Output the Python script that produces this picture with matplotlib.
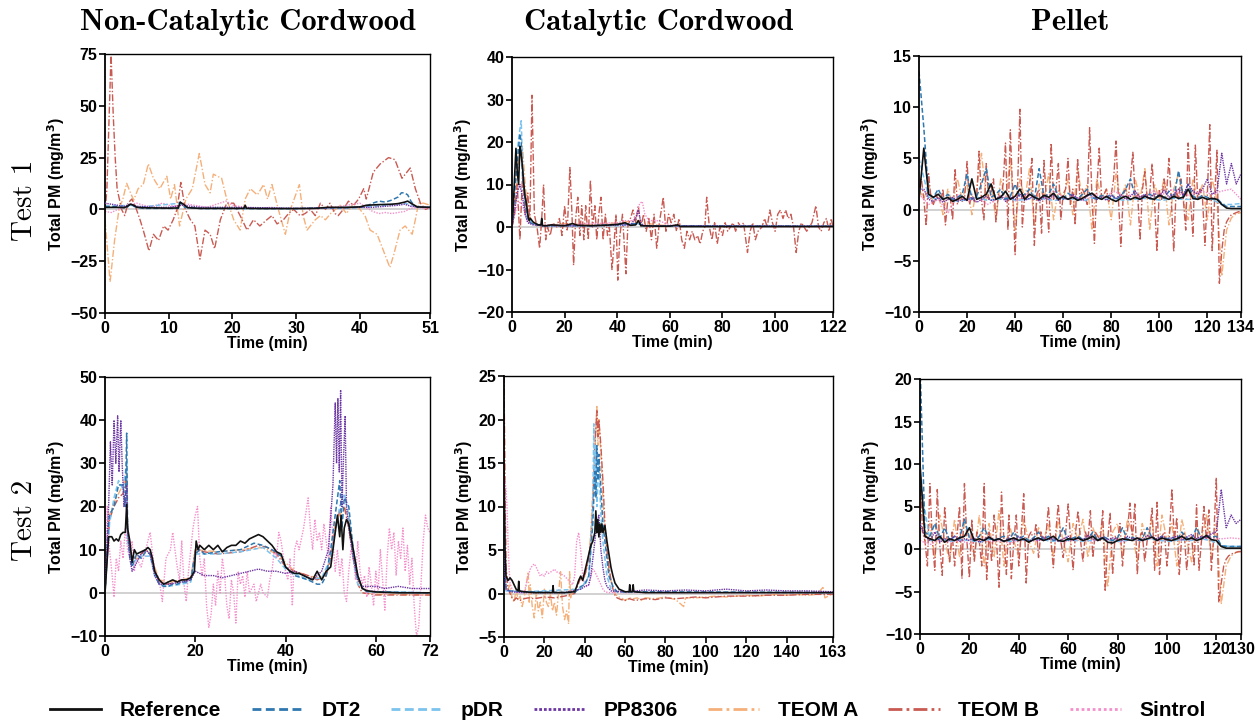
import numpy as np
import matplotlib
matplotlib.use("Agg")
import matplotlib.pyplot as plt
from matplotlib.lines import Line2D

plt.rcParams['font.family'] = ['Liberation Sans', 'DejaVu Sans']
plt.rcParams['font.weight'] = 'bold'

# ---------------- data ----------------
instruments = ['Reference', 'DT2', 'pDR', 'PP8306', 'TEOM A', 'TEOM B', 'Sintrol']
col_titles = ['Non-Catalytic Cordwood', 'Catalytic Cordwood', 'Pellet']
row_titles = ['Test 1', 'Test 2']
durations = [[51, 122, 134], [72, 163, 130]]
ylims = [[(-50, 75), (-20, 40), (-10, 15)], [(-10, 50), (-5, 25), (-10, 20)]]
yticks = [[[-50, -25, 0, 25, 50, 75], [-20, -10, 0, 10, 20, 30, 40], [-10, -5, 0, 5, 10, 15]],
          [[-10, 0, 10, 20, 30, 40, 50], [-5, 0, 5, 10, 15, 20, 25], [-10, -5, 0, 5, 10, 15, 20]]]
xticks = [[[0, 10, 20, 30, 40, 51], [0, 20, 40, 60, 80, 100, 122], [0, 20, 40, 60, 80, 100, 120, 134]],
          [[0, 20, 40, 60, 72], [0, 20, 40, 60, 80, 100, 120, 140, 163], [0, 20, 40, 60, 80, 100, 120, 130]]]

# --- Non-catalytic cordwood, test 1 (time min, mg/m3)
ncw1_ref = [(0,1),(1,1),(2,1),(3,0.8),(3.5,1.5),(4,2.5),(4.5,2),(5,1),(6,0.8),(8,0.7),(10,0.6),(11.5,0.7),(11.8,3.5),(12.3,2.5),(13,0.8),(15,0.5),(20,0.5),(21.8,0.5),(22,2),(22.2,0.5),(25,0.4),(30,0.4),(33,0.5),(35,1),(38,1),(40,1.2),(41,2),(43,2.3),(45,2.5),(46,2.8),(47,3.5),(47.5,4),(48,3),(49,1.2),(51,1)]
ncw1_dt2 = [(0,1.5),(3.5,1),(4,2.8),(4.5,1.5),(6,0.5),(11.5,0.5),(11.8,3.5),(12.5,1),(15,0.4),(22,0.4),(30,0.4),(38,0.8),(40,1),(41,1.5),(42,3),(43,4),(44,3.5),(45,4.5),(46,6),(46.5,8),(47,8),(47.5,7),(48,4),(48.5,2),(49,1),(51,1)]
ncw1_pdr = [(0,1.5),(4,2),(5,1),(11.8,3),(13,0.8),(20,0.5),(30,0.4),(40,1),(44,2),(47,3),(49,1.5),(51,1)]
ncw1_pp = [(0,3),(1,2.5),(2,2),(3,1.5),(4,2.5),(5,1.5),(8,1),(10,1),(12,2),(15,1),(20,1),(25,0.8),(30,0.5),(35,0.8),(40,1),(42,1),(44,1.5),(46,2),(47,2.5),(48,1.5),(50,1),(51,1)]
ncw1_teoma = [(0,-5),(0.8,-35),(1.5,-15),(2.2,0),(2.8,5),(3.4,12.6),(4,8),(4.5,4.5),(5.2,10),(6,12),(6.8,22),(7.6,15),(8.6,10),(9.7,16),(10.3,5),(10.9,12),(11.7,-8),(12.7,5),(13.7,10),(14.8,27),(15.7,12),(16.5,8),(17,17),(18.3,15),(19.1,5),(20.2,-5),(21.2,-10),(22,5),(22.8,10),(23.9,7),(24.9,12),(25.5,5),(26.2,12),(27.2,0),(28.3,-12),(29.1,0),(30.5,12),(31.1,-3),(31.7,-10),(33,-5),(33.8,-3),(34.6,-5),(35.4,-2),(36.9,2),(37.9,-2),(39,3),(40,0),(40.8,-3),(41.6,-10),(42.7,-12),(43.7,-20),(44.7,-28),(45.3,-22),(46.3,-10),(47.1,-8),(48.2,-12),(48.7,-5),(49.2,3),(50,3),(51,2)]
ncw1_teomb = [(0,-2),(0.3,10),(0.95,75),(1.3,45),(1.6,25),(1.9,10),(2.6,0),(3.1,-3),(3.6,3),(4.2,5),(4.7,2),(5.5,-5),(6,-10),(6.9,-20),(7.6,-12),(8.4,-15),(9.2,-8),(9.9,-10),(10.7,-5),(11.3,0),(11.9,13),(12.6,0),(13.4,-5),(14.1,-8),(14.9,-24),(15.7,-10),(16.5,-12),(17.2,-19),(18.1,-5),(19.1,3),(20.2,3),(21.2,-3),(22.3,-10),(23.3,-5),(24.3,-8),(25.4,-5),(26.2,-3),(27,-7),(28,-5),(28.8,-2),(29.6,0),(30.6,-3),(31.4,-2),(32.2,0),(33,-3),(33.8,3),(34.6,0),(35.3,3),(36.1,-2),(36.6,-3),(37.4,0),(38.2,4),(39,2),(39.8,5),(40.6,10),(41,5),(41.6,12),(42.1,18),(43.2,22),(44.5,25),(45.5,24),(46.6,15),(47.9,20),(48.7,10),(49.5,3),(50.3,0),(51,1)]
ncw1_sin = [(0,-1),(1,-1.5),(2,0),(3,1),(4,2.5),(5,3),(6,2),(7,1.5),(8,2),(9,3),(10,2),(11,1.5),(12,2),(13,2.5),(14,2),(15,1.5),(16,1),(17,2),(18,3),(19,4),(20,2),(22,1),(24,0.5),(26,1),(28,0.5),(30,0.5),(32,0.3),(34,0.5),(36,1),(38,2),(40,3),(41,1),(42,-1),(43,-2),(44,-1.5),(45,-2),(46,-1.5),(47,-1),(48,0.5),(49,1),(50,0.5),(51,0.5)]

# --- Catalytic cordwood, test 1
cw1_ref = [(0,0),(0.5,5),(1,12),(1.5,18.5),(2,13),(2.5,10),(3,19),(3.5,17),(4,14),(4.5,10),(5,7),(5.5,5.5),(6,3),(6.5,1.5),(7,2),(8,1.2),(9,0.8),(10,0.5),(11,0.5),(11.3,2),(11.6,0.3),(13,0.3),(15,0.5),(20,0.3),(23,0.8),(25,0.4),(30,0.3),(35,0.4),(40,0.6),(43,1),(45,0.4),(47,0.5),(48,1.5),(49,0.3),(55,0.2),(60,0.2),(63,0.5),(64,0.1),(80,0.1),(100,0.1),(122,0.1)]
cw1_dt2 = [(0,0),(1,8),(2,15),(3,22),(3.5,20),(4,12),(5,6),(6,2),(7,1),(9,0.5),(12,0.3),(30,0.3),(43,0.7),(48,0.8),(50,0.3),(122,0.2)]
cw1_pdr = [(0,0),(1,10),(2,18),(3,23),(3.5,25),(4,15),(5,6),(6,2),(8,0.8),(12,0.3),(40,0.3),(48,0.8),(50,0.3),(122,0.2)]
cw1_pp = [(0,0),(1,4),(2,8),(3,10),(4,7),(5,3),(6,1),(8,0.5),(12,0.3),(30,0.3),(45,0.5),(47,2),(48,4),(49,1),(50,0.3),(122,0.2)]
cw1_teoma = [(0,0),(1,5),(2,12),(3,18),(4,19),(5,10),(6,4),(7,2),(8,1),(10,0.5),(15,0.5),(20,0.8),(30,0.5),(40,1),(43,1.2),(47,1.5),(50,1),(55,0.5),(60,0.3),(122,0.2)]
cw1_teomb = [(0,0),(1,3),(2,10),(3,-3),(4,12),(5,3),(6,8),(6.8,1),(7.6,31),(8.5,3),(9.5,0),(10.5,-5),(11.3,2),(12,10),(12.8,-3),(13.5,0),(14.5,-2),(15.5,1),(17,0),(18,2),(19,-2),(20,5),(21,-1),(22,14),(22.8,3),(23.4,-9),(24.2,2),(25,7),(25.8,-2),(26.5,5),(27.3,-3),(28,5),(29,-3),(29.8,11),(30.6,0),(31.5,5),(32.2,-3),(33,3),(33.8,7),(34.6,-3),(35.5,3),(36.3,-2),(37,0),(38,-10),(38.8,-4),(39.5,3),(40.2,-12.5),(41,-2),(42,3),(43.3,-11),(44,0),(45,2),(46,4),(47,1),(48,5),(49,0),(50,3),(51,-1),(52,2),(53,-3),(54,3),(55,-5),(56,1),(57.5,7),(58.5,-1),(59.5,3),(60.5,1),(61.5,3),(62.5,-1),(63.5,2),(64.5,-3),(65.5,-5),(66.5,-1),(67.5,-3),(68.5,-1),(69.5,-3),(70.5,-2),(71.5,-4),(72.5,-1),(73.3,0),(74,7),(75,0),(76,-3),(77,1),(78,-4),(79,0),(80,-2),(81,1),(82,-1),(83,0),(84,1),(85,-1),(86,1),(87,0),(88,1),(89.5,-6),(90.5,-1),(91.5,1),(92.5,-3),(93.5,-1),(95,0),(96,2),(97,0),(98,4),(99,1),(100,-1),(101,3),(102,4),(103,2),(104,4),(105,2),(106,3),(107,0),(108,-6),(109,-1),(110,1),(111,0),(112,-1),(113,0),(114,1),(115.5,5),(116.5,0),(117.5,-1),(118.5,1),(119.5,2),(120.5,-1),(121.3,2),(122,0)]
cw1_sin = [(0,0),(1,3),(2,5),(3,6),(4,5),(5,3),(6,1),(8,0.8),(12,0.5),(20,0.5),(30,0.8),(40,1),(43,1.5),(46,1.5),(47.5,3),(48.5,5.5),(49.5,6),(50.5,3),(52,1.5),(55,1.5),(58,1),(60,0.5),(65,0.2),(122,0.1)]

# --- Pellet, test 1 (evenly sampled over 0-134 min)
pel1_ref = [1,6,1.5,1.2,1.5,1,1.2,0.8,1,1.3,0.9,3,1,1.2,1.5,2.5,1,1.2,1.8,1,1.3,2,1,1.5,1.2,1,1.4,1.2,1.6,1,1.3,1,1.2,0.9,1.1,1.4,1.6,1.2,1,1.3,1,0.8,1.1,1.3,1,1.2,1,1.3,1.1,1,1.4,1.2,1,1.3,1.1,1.2,2,1.1,1,1.2,1,1.1,1,0.5,0.15,0.1,0.1,0.1]
pel1_dt2 = [13.5,8,1.5,1.2,2,1,1.5,1,1.2,1.5,3.5,1,1.3,2.5,4,1.2,1.5,2,1,1.3,2.5,1.2,1.5,2,1,4,1.3,1.5,2.5,1.2,1,1.6,1.3,1,1.5,2,1.2,1,1.4,1.2,1.5,1,1.3,2,3,1.2,1,1.4,1.5,1.2,1.3,1.1,1.8,1,3.8,1.2,2.5,1.3,1.1,1.4,1.2,1,1.1,0.6,0.3,0.3,0.3,0.3]
pel1_pdr = [5,1.2,1,1.1,0.8,1,1.2,0.9,1,1.1,0.9,1,1.2,1,0.9,1.1,1,0.9,1.2,1,1.1,0.9,1,1.1,1,0.9,1.1,1,1,1.2,1,0.5,0.5,0.6]
pel1_pp = [2,2,1,0.8,1.2,0.7,1,1.2,0.8,1,0.9,1.2,0.7,1,1.3,0.9,1,1.4,0.8,1.2,1,1.5,0.9,1.1,1.3,0.8,1.2,1,1.4,0.9,1.2,1,1.5,1.1,0.9,1.3,1.6,1,1.2,0.9,1.4,1.1,1.5,1,1.3,1.8,1.2,1.5,1.1,1.6,1.3,1.9,1.2,1.5,2,1.4,2.5,1.8,1.5,2,3,1.5,1.8,5.5,2.5,4.5,2.5,3.5]
pel1_teoma = [2,1,2.5,0.5,1.5,-0.5,2,0.5,3,1,2.5,-0.5,2,5.5,1,2.5,-1,3,1,5,-2,3,1,4,-1.5,2.5,1,3.5,-1,2,1,3,-0.5,4,1,2.5,-2,3,1,2,-1,3.5,1,2.5,-1.5,3,1,4,-2,2.5,1,3,-1.5,2,3.5,1,-1,3,1,2.5,-1,3,1,-6.5,-2,-0.8,-0.4,-0.3]
pel1_teomb = [2,3,1,-1.6,3.5,1,0.5,1.5,1,0.8,
              2,-1.5,1,1.2,-1,4,0.5,1.5,0.8,1.2,
              4.7,0.5,1.5,0.8,1.2,5.7,1,-1,4.5,1,
              1.5,3,-1.2,1.5,1,2.5,6.5,-2,7.8,1.5,
              -4.4,2,9.8,-1.7,1.5,1,2.5,5,-3.5,1.5,
              2,-2.3,4.8,1,-2.2,6.5,1,2,4.5,-1,
              1.5,2,5,0.5,2,-1.5,5,1,2,1.5,
              0.5,8,1,-3.3,2,6,1,1.5,2,0.8,
              1.5,3,6.7,1,-3.6,1.5,2,1,3,5.6,
              1,1.5,-3,2,3.7,1,1.5,4.5,1,-4.1,
              2,1,3,1.5,5,1,-4.1,2,1,3,
              1,-2,6.5,1,-2.6,6.3,1,2,1,-3.5,
              1.5,8.3,-4,1,5.8,-7.2,-4,-2,-1.2,-0.8,
              -0.5,-0.4,-0.3,-0.2,-0.2]
pel1_sin = [1.5,0.5,1,-0.3,1.5,0.8,1.2,0.5,1,1.3,0.8,1.5,1,1.2,1.8,1,1.3,0.8,1.5,1.2,1.8,1.3,1.5,1,1.8,1.5,2,1.3,1.5,1.8,1.5,1.8,2,1]

# --- Non-catalytic cordwood, test 2
ncw2_ref = [(0,0),(0.5,8),(0.8,13),(1.5,13),(2,12),(2.5,12.5),(3,12),(3.5,13.5),(4,14),(4.5,14),(4.8,20.5),(5,15),(5.5,12),(6,7),(6.5,10),(7,9),(8,9.5),(9,10),(9.5,10.5),(10,10),(10.5,8),(11,5),(12,3),(13,2),(14,2.5),(15,3),(16,2.5),(17,3),(18,3),(19,3.5),(19.8,5),(20.2,12),(20.6,10),(21,11),(22,10),(23,11),(24,10),(25,11),(26,9.5),(27,10.5),(28,11),(29,11),(30,12),(31,11.5),(32,12.5),(33,13),(34,13.5),(35,13),(36,12),(37,11),(38,9.5),(39,9),(40,6),(41,5),(42,4.5),(43,4.5),(44,4),(45,3.5),(46,3),(47,5),(48,3),(49,5),(50,6),(51,14),(51.5,18),(52,13),(52.3,18),(52.7,10),(53,15),(53.5,17),(54,16),(55,10),(56,4),(57,1),(58,0.5),(60,0.2),(65,0),(72,0)]
ncw2_dt2 = [(0,0),(0.7,15),(1,18),(2,20),(3,25),(4,25),(4.5,20),(4.8,37),(5,15),(5.5,8),(6,6),(7,9),(8,8),(9,9.5),(10,9),(11,5),(12,2),(13,1.5),(14,1.5),(15,2),(16,2),(17,2.5),(18,2.5),(19,3),(20,9),(21,10),(22,9),(25,9.5),(30,10),(33,11.5),(35,11),(37,10),(39,8.5),(40,6),(42,4),(45,3),(47,2),(48,2),(49,4),(50,10),(51,18),(52,26),(52.5,15),(53,22),(54,20),(55,10),(56,4),(57,1),(58,0.3),(72,0)]
ncw2_pdr = [(0,0),(1,16),(2,22),(3,26),(4,24),(4.8,30),(5,12),(6,7),(8,8.5),(10,8.5),(11,4),(12,2),(14,1.5),(17,2),(19,2.5),(20,9),(25,9),(30,9.5),(35,10.5),(38,8),(40,5.5),(45,3),(48,3.5),(50,8),(51,14),(52,20),(53,23),(54,18),(55,8),(56,2),(58,0.3),(72,0)]
ncw2_pp = [(0,0),(0.8,20),(1.2,35),(1.6,25),(2,40),(2.4,30),(2.8,41),(3.1,28),(3.5,40),(3.8,30),(4.2,20),(4.8,25),(5,15),(5.5,8),(6,5),(7,7),(8,9),(9,10),(10,9),(11,4),(12,2),(14,2),(17,2.5),(19,3),(20,5),(21,4.5),(22,4),(24,4),(26,3.5),(28,4),(30,4.5),(32,5),(34,5.5),(36,5),(38,5),(40,4.5),(42,5),(44,4),(46,3),(48,5),(49.5,10),(50.5,25),(51,44),(51.3,30),(51.6,45),(51.9,28),(52.2,47),(52.5,20),(52.8,30),(53.2,41),(53.5,20),(54,15),(55,8),(56,3),(57,1.5),(60,1.5),(62,1),(65,1.5),(68,1),(70,1),(72,1)]
ncw2_teoma = [(0,0),(1,18),(2,21),(3,23),(4,25),(4.8,28),(5,14),(6,8),(8,8),(9,10),(10,9),(11,6),(12,3),(14,2.5),(17,3),(19,3.5),(20,10),(25,9.5),(30,10),(35,10.5),(38,9),(40,7),(42,5),(45,4),(47,3.5),(49,4),(50,9),(51,16),(52,18),(53,20),(54,17),(55,9),(56,3),(58,0),(60,-0.3),(72,-0.5)]
ncw2_teomb = [(0,0),(1,17),(2,20),(3,22),(4,23),(4.8,27),(5,13),(6,8),(7,8.5),(8,9),(9,10),(10,9),(11,5),(12,2.5),(14,2),(17,3),(19,3),(20,10),(22,9.5),(25,9),(30,9.5),(34,11),(36,10.5),(38,9),(40,6),(42,5),(45,4),(47,3),(49,4),(50,8),(51,15),(52,19),(53,20),(54,15),(55,8),(56,2),(57,0),(60,-0.5),(72,-0.5)]
ncw2_sin = [(0,0),(0.5,20),(1,10),(1.5,5),(2,-1),(2.5,8),(3,5),(3.5,12),(4,8),(4.5,15),(5,10),(5.5,8),(6,12),(6.5,5),(7,8),(8,6),(9,10),(10,14),(11,5),(12,3),(12.7,-2),(13.5,8),(14.5,10),(15,14),(16,6),(16.5,3),(17,12),(17.5,2),(18,-2),(18.5,5),(19,10),(19.5,15),(20,18),(20.5,20),(21,8),(21.5,4),(22,8),(22.5,-3),(23,-8),(23.5,-5),(24,2),(24.5,-3),(25,5),(25.5,0),(26,8),(26.5,4),(27,-3),(27.5,-6),(28,3),(28.5,0),(29,-7),(29.5,5),(30,2),(30.5,4),(31,-1),(31.5,5),(32,0),(33,2),(33.5,-2),(34,0),(34.5,2),(35,0),(36,-1),(36.5,3),(37,5),(37.5,10),(38,8),(38.5,14),(39,12),(40,5),(40.5,3),(41,8),(41.5,-3),(42,10),(42.5,12),(43,10),(44,15),(45,22),(45.5,15),(46,10),(46.5,17),(47,12),(47.5,14),(48,10),(48.5,16),(49,12),(49.5,8),(50,20),(50.5,12),(51,5),(51.5,10),(52,4),(52.5,8),(53,0),(53.5,-2),(54,5),(54.5,10),(55,8),(55.5,3),(56,12),(56.5,5),(57,2),(57.5,4),(58,-1),(58.5,6),(59,2),(59.5,-3),(60,5),(60.5,0),(61,10),(61.5,3),(62,-4),(62.5,8),(63,15),(63.5,10),(64,14),(64.5,4),(65,12),(65.5,8),(66,15),(66.5,5),(67,11),(67.5,2),(68,8),(68.5,-3),(69,-10),(69.5,-8),(70,2),(70.5,12),(71,18),(71.5,15),(72,14)]

# --- Catalytic cordwood, test 2
cw2_ref = [(0,15),(0.5,5),(1,2),(2,1.5),(3,1.8),(4,1.5),(5,1),(6,0.5),(7,0.3),(7.3,1.4),(7.6,0.3),(10,0.2),(15,0.1),(20,0.1),(24,0.1),(24.3,0.9),(24.6,0.1),(30,0.1),(35,0.2),(36,0.8),(37,1.5),(38,2),(39,1.5),(40,2.5),(41,3.5),(42,4.5),(43,5.5),(44,6),(45,7),(45.5,9.5),(46,7),(46.5,8.5),(47,6.5),(47.5,8),(48,7),(48.5,8),(49,7),(50,7.8),(51,6),(52,4.5),(53,3),(54,2),(55,1.2),(57,0.5),(60,0.2),(62,0.2),(62.3,1),(62.6,0.2),(63.5,0.2),(64,1),(64.3,0.2),(70,0.1),(163,0.1)]
cw2_dt2 = [(0,12),(0.5,3),(1,0.5),(3,0.3),(10,0.2),(35,0.1),(38,0.8),(40,1),(42,2),(44,8),(45,14),(45.5,11),(46,17),(46.5,13),(47,16),(48,12),(49,8),(50,6),(51,4),(52,2),(54,0.8),(56,0.2),(163,0.1)]
cw2_pdr = [(0,8),(0.5,2),(1,0.3),(10,0.2),(38,0.5),(42,2),(43,5),(44,10),(44.5,19.5),(45,12),(45.5,17),(46,10),(47,15),(48,9),(49,6),(50,4),(51,2),(53,0.5),(56,0.2),(163,0.1)]
cw2_pp = [(0,6),(0.5,2),(1,0.5),(3,0.2),(10,0.1),(30,0.1),(38,0.5),(40,0.8),(42,1),(43,2),(44,4),(45,6),(46,8),(47,9),(47.5,7),(48,5),(49,3),(50,1.5),(51,0.8),(53,0.3),(60,0.2),(70,0.4),(80,0.3),(90,0.4),(100,0.3),(110,0.5),(120,0.3),(130,0.4),(140,0.3),(150,0.3),(163,0.2)]
cw2_teoma = [(0,25),(0.5,10),(1,3),(2,0.5),(3,1),(4,-0.5),(5,-1),(6,0.5),(7,-0.8),(8,-0.3),(9,-1.5),(10,-0.5),(11,1),(12,2.5),(12.5,-1),(13,1),(14,-1.5),(15,-2.8),(16,0),(17,-2),(18,-1),(19,-2.8),(20,0.5),(21,-1),(22,-1.5),(23,0),(24,-2),(25,-1),(26,-2.5),(27,0),(28,2.5),(29,-1.5),(30,-3),(31,-2),(32,-3.5),(32.5,2.5),(33,-0.5),(34,0.5),(35,0),(36,0.5),(37,1.5),(38,2),(39,1.5),(40,2),(41,3),(42,4),(43,7),(44,12),(45,16),(46,21.5),(46.5,17),(47,20),(48,16),(49,11),(50,7),(51,5),(52,3),(53,1.5),(54,0.5),(55,0),(56,-0.3),(58,-0.5),(60,-0.8),(62,-0.5),(64,-0.6),(66,-0.5),(68,-0.8),(70,-0.5),(75,-0.6),(80,-0.4),(85,-0.7),(89,-1.5),(90,-0.5),(95,-0.5),(100,-0.4),(105,-0.3),(110,-0.4),(115,-0.3),(120,-0.2),(125,-0.3),(130,-0.2),(135,-0.1),(140,-0.2),(145,-0.1),(150,-0.2),(155,-0.1),(158,0.7),(159,-0.5),(163,0)]
cw2_teomb = [(0,25),(0.5,12),(1,3),(2,0.5),(3,0),(4,-0.5),(5,-0.8),(6,-0.5),(8,-0.8),(10,-0.6),(12,-0.5),(15,-0.6),(20,-0.4),(25,-0.5),(30,-0.3),(35,0),(38,1.8),(40,2),(42,4),(43,6),(44,10),(45,17),(46,21),(46.5,18),(47,20),(48,17),(49,13),(50,8),(51,5),(52,3),(53,1.5),(54,0.5),(55,-0.2),(56,-0.5),(58,-0.7),(60,-0.8),(62,-0.6),(65,-0.8),(70,-0.6),(75,-0.7),(80,-0.5),(85,-0.6),(90,-0.5),(95,-0.4),(100,-0.5),(110,-0.3),(120,-0.3),(130,-0.2),(140,-0.2),(150,-0.1),(163,-0.1)]
cw2_sin = [(0,3),(0.5,13),(1,12),(1.5,10),(2,6),(2.5,3),(3,1.2),(4,0.5),(5,0.2),(8,0.1),(10,0.1),(12,2),(13,2.8),(14,3.2),(15,3.4),(16,3),(17,2.5),(18,2),(19,2.2),(20,2),(21,2.5),(22,2.3),(24,2.6),(25,2.8),(26,2.5),(28,2.3),(30,2),(32,1.5),(34,1),(35,2),(36,6),(37,7),(38,5),(39,2),(40,1),(41,0.8),(42,1),(43,2),(44,2.8),(45,2.5),(46,2),(47,1.5),(48,1),(49,0.5),(50,0.2),(52,0.1),(163,0.1)]

# --- Pellet, test 2 (evenly sampled over 0-130 min)
pel2_ref = [10,1.5,1.2,1,1.5,0.8,1.2,1,1.3,1.5,2.5,1,1.2,1,1.4,1,1.2,0.9,1.1,1.3,1,1.2,0.8,1.1,1.3,1,1.2,1.5,1,0.9,1.2,1.1,1.3,1,1.2,1.5,1,1.3,0.8,0.7,1,1.2,1.1,1,1.3,1,1.2,1.4,1,1.3,1.1,1,1.2,1.5,1.1,1.3,1,1.2,1.6,1.1,1,0.3,0.1,0.1,0.1,0.1]
pel2_dt2 = [22,2,1.5,3,1.2,2.5,1,1.5,1.2,3.5,1.3,1,1.5,2.5,1.2,1,1.3,1.5,1,2,1.2,1.5,1,1.3,2,1.1,1.5,1,1.2,2.5,1,1.3,1.5,1.1,1.2,2,1,1.5,1.2,1,1.3,2.5,1.1,1.4,1,1.2,2.5,1.3,1,1.5,1.2,1.4,1,2,1.3,1.1,2.5,1.2,1.5,1.4,1.5,0.4,0.3,0.3,0.3,0.3]
pel2_pdr = [8,1,1.2,0.9,1.1,1,0.8,1.2,1,0.9,1.1,1,1.2,0.9,1,1.1,0.9,1,1.2,1,0.9,1.1,1,1.2,1,0.9,1.1,1,1.2,1,0.4,0.3,0.3]
pel2_pp = [3,1.5,1,2,0.8,1.2,1,1.5,0.9,1.2,1,1.3,0.8,1.1,1.5,1,1.2,0.9,1.3,1,1.5,1.1,0.9,1.2,1,1.4,1.1,1.3,0.9,1.2,1.5,1,1.3,1.1,1.6,1.2,1,1.4,1.1,1.3,1.2,1,1.5,1.2,1.3,1,1.6,1.4,1.2,1.5,1.1,1.3,1.5,1,1.4,1.7,1.2,1.5,1.3,1.8,2,7,2.5,4,3,3.5]
pel2_teoma = [8,1,3,-1,4,1,-1.5,3.5,-1,3,1.5,-1,4,-2,3,-1,4.5,-2,3,1,-1,3.5,1,-0.5,2.5,1,3,-1,3.5,1,-1.5,3,1,3.5,-1,2.5,1,3,-4.5,2,3,-1,3.5,2,-1.5,3,1,3.5,-2,4,1,3,-2,3.5,1,-1.5,3,1,4,-1,3,-6.5,-2,-0.8,-0.4,-0.3]
pel2_teomb = [10,2,1,-2,7.7,1,-2.5,7,0.5,-3.1,
              5,1,-1.5,2,-2,1.5,5,-3.5,7.7,1,
              -3.4,3.5,-1.5,2,1,-2,7.7,-3.6,2,-1.5,
              4,1,-4.5,6.7,1,-3,4,-3.5,1,4,
              -2,2,6.5,-4,1.5,2,1,3,-1,2,
              1,1.5,5,1,-2.2,2,5.3,1,-1,2,
              5.3,1,-2.5,2,4.5,1,-1.5,2,1,4.5,
              -1,2,1.5,1,4.5,-5,1,4.3,-3,1.5,
              1,3,-2,1.5,2,5.4,1,5.3,-3,1.5,
              2,-1.5,1,2,4.8,-2.5,5.5,-3,1.5,2,
              -2,1.5,7.1,1,3.7,-3,1.5,2,-2.5,1,
              1.5,-2,5.2,-2.5,1,5,1,4.6,-2.5,1.5,
              8.4,-6.3,-4,-2,-1.2,-0.8,-0.6,-0.5,-0.4,-0.3,
              -0.3]
pel2_sin = [1,0.5,1.2,0.8,1,0.6,1.2,0.9,1,0.7,1.1,0.9,1,1.2,0.8,1,1.1,0.9,1.2,1,0.8,1.1,1,1.2,0.9,1.1,1.3,1,1.2,1.3,1.2,1.3,1.2]

panels = [
    [[ncw1_ref, ncw1_dt2, ncw1_pdr, ncw1_pp, ncw1_teoma, ncw1_teomb, ncw1_sin],
     [cw1_ref, cw1_dt2, cw1_pdr, cw1_pp, cw1_teoma, cw1_teomb, cw1_sin],
     [pel1_ref, pel1_dt2, pel1_pdr, pel1_pp, pel1_teoma, pel1_teomb, pel1_sin]],
    [[ncw2_ref, ncw2_dt2, ncw2_pdr, ncw2_pp, ncw2_teoma, ncw2_teomb, ncw2_sin],
     [cw2_ref, cw2_dt2, cw2_pdr, cw2_pp, cw2_teoma, cw2_teomb, cw2_sin],
     [pel2_ref, pel2_dt2, pel2_pdr, pel2_pp, pel2_teoma, pel2_teomb, pel2_sin]],
]

# ---------------- style ----------------
styles = {
    'Reference': dict(color='#111111', ls='-', lw=1.2, zorder=3.0),
    'DT2':       dict(color='#2f78b0', ls=(0, (3.2, 1.6)), lw=1.1, zorder=2.5),
    'pDR':       dict(color='#7cc3ee', ls=(0, (3.2, 1.6)), lw=1.1, zorder=2.4),
    'PP8306':    dict(color='#6b35a3', ls=(0, (1.0, 0.7)), lw=1.0, zorder=2.6),
    'TEOM A':    dict(color='#f5b07a', ls=(0, (5, 1.5, 1, 1.5)), lw=1.0, zorder=2.0),
    'TEOM B':    dict(color='#c85a52', ls=(0, (5, 1.5, 1, 1.5)), lw=1.0, zorder=2.1),
    'Sintrol':   dict(color='#f48fcb', ls=(0, (1.0, 1.0)), lw=1.0, zorder=2.2),
}


def to_xy(series, T):
    if isinstance(series[0], tuple):
        arr = np.array(series, dtype=float)
        return arr[:, 0], arr[:, 1]
    v = np.array(series, dtype=float)
    return np.linspace(0, T, len(v)), v


W, H = 1256, 721
fig = plt.figure(figsize=(W / 100, H / 100), dpi=100)

boxes = [[(105, 54, 430, 313), (512, 57, 833, 312), (919, 56, 1241, 312)],
         [(105, 377, 430, 636), (504, 376, 833, 637), (920, 379, 1241, 634)]]

for r in range(2):
    for c in range(3):
        l, t, rr, b = boxes[r][c]
        ax = fig.add_axes([l / W, 1 - b / H, (rr - l) / W, (b - t) / H])
        T = durations[r][c]
        ax.axhline(0, color='#c9c9c9', lw=1.2, zorder=1)
        for name, s in zip(instruments, panels[r][c]):
            x, y = to_xy(s, T)
            st = styles[name]
            ax.plot(x, y, color=st['color'], ls=st['ls'], lw=st['lw'], zorder=st['zorder'])
        ax.set_xlim(0, T)
        ax.set_ylim(*ylims[r][c])
        ax.set_xticks(xticks[r][c])
        ax.set_yticks(yticks[r][c])
        ax.tick_params(direction='out', length=4, width=1.2, labelsize=11.5, pad=1.5,
                       top=False, right=False)
        for lab in ax.get_xticklabels() + ax.get_yticklabels():
            lab.set_fontweight('bold')
        for sp in ['left', 'bottom']:
            ax.spines[sp].set_linewidth(1.3)
        for sp in ['top', 'right']:
            ax.spines[sp].set_linewidth(1.0)
        ax.set_xlabel('Time (min)', fontsize=11.5, fontweight='bold', labelpad=0)
        ax.set_ylabel('Total PM (mg/m$^{\\mathbf{3}}$)', fontsize=11.5, fontweight='bold', labelpad=2)

# column titles
title_x = [248, 659, 1070]
for c in range(3):
    fig.text(title_x[c] / W, 1 - 22 / H, col_titles[c], fontfamily='cmb10', fontsize=22,
             ha='center', va='center')
# row titles
row_y = [200, 520]
for r in range(2):
    fig.text(25 / W, 1 - row_y[r] / H, row_titles[r], fontfamily='cmr10', fontsize=21,
             rotation=90, ha='center', va='center')

handles = [Line2D([], [], color=styles[n]['color'], ls=styles[n]['ls'], lw=2.0) for n in instruments]
fig.legend(handles, instruments, loc='center', bbox_to_anchor=(0.5, 1 - 711 / H), ncol=7,
           frameon=False, prop=dict(weight='bold', size=15), handlelength=2.45,
           handletextpad=0.9, columnspacing=1.45)

fig.savefig('out.png', dpi=100)
